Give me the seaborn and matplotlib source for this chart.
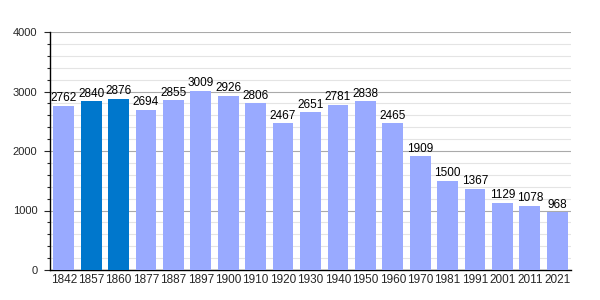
import matplotlib
matplotlib.use("Agg")
import matplotlib.pyplot as plt
import seaborn as sns
import pandas as pd
from matplotlib.ticker import MultipleLocator

years = ["1842", "1857", "1860", "1877", "1887", "1897", "1900", "1910", "1920", "1930",
         "1940", "1950", "1960", "1970", "1981", "1991", "2001", "2011", "2021"]
population = [2762, 2840, 2876, 2694, 2855, 3009, 2926, 2806, 2467, 2651,
              2781, 2838, 2465, 1909, 1500, 1367, 1129, 1078, 968]
highlight = ["1857", "1860"]

sns.set_style("white")
plt.rcParams['font.family'] = ['Liberation Sans', 'DejaVu Sans']

df = pd.DataFrame({"year": years, "pop": population})
light = "#99aaff"
dark = "#0077cc"
palette = {y: (dark if y in highlight else light) for y in years}

fig = plt.figure(figsize=(6, 3), dpi=100)
ax = fig.add_axes([50/600, 30/300, 521/600, 238/300])

sns.barplot(data=df, x="year", y="pop", hue="year", palette=palette, legend=False,
            width=0.76, saturation=1, linewidth=0, edgecolor="none", ax=ax, zorder=3)

ax.set_ylim(0, 4000)
ax.set_xlim(-0.5, len(years) - 0.5)
ax.yaxis.set_major_locator(MultipleLocator(1000))
ax.yaxis.set_minor_locator(MultipleLocator(200))
ax.grid(axis="y", which="major", color="#aaaaaa", linewidth=0.8, zorder=0)
ax.grid(axis="y", which="minor", color="#e4e4e4", linewidth=0.8, zorder=0)
ax.set_axisbelow(True)

for s in ["top", "right"]:
    ax.spines[s].set_visible(False)
for s in ["left", "bottom"]:
    ax.spines[s].set_color("black")
    ax.spines[s].set_linewidth(1)

ax.tick_params(axis="y", which="major", length=4, width=0.8, labelsize=8, left=True, pad=5)
ax.tick_params(axis="y", which="minor", length=2.5, width=0.8, left=True)
ax.tick_params(axis="x", length=0, labelsize=8.5, pad=3)
ax.set_xlabel("")
ax.set_ylabel("")

for i, v in enumerate(population):
    ax.text(i, v + 25, str(v), ha="center", va="bottom", fontsize=8.5, color="black", zorder=5)

fig.savefig("out.png", dpi=100)
